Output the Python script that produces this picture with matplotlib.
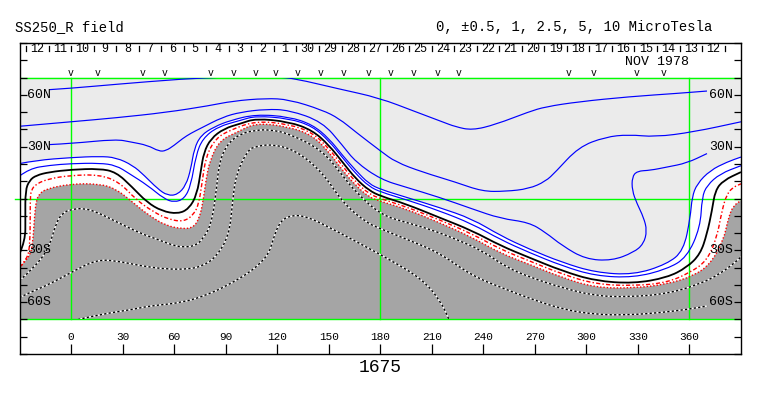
import matplotlib
matplotlib.use("Agg")
import matplotlib.pyplot as plt
from matplotlib.patches import Rectangle, PathPatch
from matplotlib.path import Path

plt.rcParams['font.family'] = ['Liberation Mono', 'DejaVu Sans Mono']

# ---------------- data (longitude, latitude of each contour) ----------------
# +10 uT
c10_lon = [-12.6, 0, 26.2, 64.9, 88.2, 105, 120, 130, 156, 179.2, 200.6, 216.1, 223.8, 233.5,
           247.1, 266.5, 276.2, 295.5, 324.6, 353.7, 370.2]
c10_lat = [63.0, 63.8, 66.1, 69.2, 70.2, 71.0, 70.3, 69.5, 63.4, 58.3, 50.2, 44.4, 41.5, 39.5,
           42.8, 50.2, 53.1, 56.0, 58.9, 60.9, 62.2]
# +5 uT
c5_lon = [-30, 0, 26.2, 55.2, 80.4, 94.0, 113.4, 126.9, 146.3, 156.0, 165.7, 180.4, 189.0, 204.5,
          223.8, 239.4, 252.9, 266.5, 276.2, 282.0, 295.5, 311.0, 324.6, 340.1, 362.4, 390]
c5_lat = [41.8, 44.4, 46.7, 49.8, 53.7, 56.4, 58.0, 57.3, 51.2, 46.3, 38.5, 27.3, 21.1, 15.3,
          9.5, 4.1, 4.1, 5.6, 9.9, 15.3, 29.8, 35.6, 37.0, 35.6, 38.5, 44.4]
# +2.5 uT
c2p5_lon = [-12.6, 0, 26.2, 34.9, 44.6, 51.2, 55.2, 60.1, 64.9, 69.8, 75.6, 88.2, 98.8, 113.4,
            126.9, 146.3, 158.0, 165.7, 180.4, 194.8, 214.1, 233.5, 250.0, 266.5, 276.2, 285.9,
            299.4, 314.9, 327.5, 333.3, 335.3, 333.3, 329.5, 326.6, 326.6, 329.5, 337.2, 346.9,
            358.5, 370.2]
c2p5_lat = [31.2, 31.8, 34.3, 32.7, 30.8, 27.3, 27.6, 30.8, 34.7, 37.8, 40.7, 47.1, 50.0, 51.7,
            51.2, 44.4, 30.8, 21.1, 11.0, 6.6, 0.8, -6.0, -11.6, -13.8, -19.6, -27.3,
            -35.1, -36.0, -31.2, -26.3, -18.6, -10.9, -3.1, 4.7, 12.4, 15.9, 16.3, 18.2,
            20.5, 26.0]
# +1 uT
c1_lon = [-30, -20.3, 0, 16.5, 26.2, 35.9, 42.6, 50.4, 56.2, 62.0, 66.9, 69.8, 71.7, 75.6, 83.3,
          93.0, 107.6, 126.9, 140.5, 150.2, 158.0, 165.7, 173.4, 180.4, 194.8, 214.1, 233.5,
          250.0, 266.5, 285.9, 305.2, 327.5, 346.9, 356.6, 360.5, 361.5, 364.4, 372.1, 381.8, 390]
c1_lat = [20.2, 22.1, 23.7, 24.4, 23.7, 19.2, 13.4, 5.6, 1.7, 2.2, 7.6, 17.3, 28.9, 36.6, 41.5,
          45.3, 48.7, 47.3, 42.8, 34.7, 25.0, 16.3, 8.5, 5.2, 0.8, -5.1, -11.8,
          -21.5, -29.2, -37.0, -42.8, -44.2, -38.0, -30.2, -10.9, 0.8, 8.5, 16.3, 21.1, 24.0]
# +0.5 uT
c05_lon = [-30, -24.2, -12.6, 0, 16.5, 26.2, 33.9, 44.6, 54.2, 60.1, 65.9, 69.8, 72.7, 76.6, 85.3,
           98.8, 107.6, 126.9, 140.5, 150.2, 158.0, 165.7, 173.4, 180.4, 194.8, 214.1, 233.5,
           250.0, 266.5, 285.9, 305.2, 327.5, 346.9, 358.5, 366.3, 367.3, 370.2, 377.9, 390]
c05_lat = [13.0, 17.3, 19.2, 20.2, 20.5, 19.2, 14.4, 7.6, -0.2, -2.2, -0.2, 7.6, 25.0, 34.7, 41.5,
           45.3, 47.8, 46.3, 41.9, 33.3, 23.7, 14.4, 7.0, 3.7, -0.6, -7.0, -14.7,
           -23.8, -31.2, -39.0, -44.8, -45.8, -40.9, -34.1, -16.7, 0.8, 7.6, 14.4, 19.0]
# 0 (neutral line)
c0_lon = [-30, -26.6, -26.6, -26.6, -24.2, -20.3, -12.6, 0, 16.5, 26.2, 35.5, 44.2, 52.9, 62.2,
          68.6, 73.3, 75.6, 77.3, 81.4, 89.1, 98.8, 107.6, 126.9, 140.5, 150.2, 158.0, 165.7,
          173.4, 180.4, 194.8, 214.1, 233.5, 250.0, 266.5, 285.9, 305.2, 327.5, 346.9, 358.5,
          366.3, 370.2, 373.1, 375.0, 379.8, 390]
c0_lat = [-32.0, -24.4, -10.9, 4.7, 10.5, 13.4, 15.3, 16.7, 17.3, 15.3, 6.7, -2.2, -7.3, -8.9,
          -6.0, 2.3, 16.3, 26.7, 34.7, 40.5, 43.4, 46.3, 44.4, 39.5, 30.8, 21.1, 11.5,
          4.7, 1.3, -3.1, -10.9, -18.6, -27.3, -34.1, -41.9, -47.7, -49.2, -45.8, -39.9,
          -32.2, -20.5, -7.0, 4.7, 10.5, 15.3]
# -0.5 uT
cm05_lon = [-30, -26.2, -23.8, -23.8, -23.3, -20.3, -12.6, 0, 16.5, 28.1, 37.8, 47.7, 57.0, 65.7,
            71.5, 74.4, 76.2, 78.5, 84.3, 93.0, 107.6, 126.9, 140.5, 150.2, 158.0, 165.7, 173.4,
            180.4, 194.8, 214.1, 233.5, 250.0, 266.5, 285.9, 305.2, 327.5, 346.9, 360.5, 370.2,
            376.0, 378.9, 381.8, 385.6, 390]
cm05_lat = [-39.9, -36.0, -28.3, -1.2, 4.7, 8.5, 11.5, 13.4, 13.8, 9.5, -0.6, -7.6, -12.2, -13.4,
            -9.3, -2.9, 8.7, 24.4, 34.9, 39.8, 44.9, 43.0, 38.2, 28.9, 18.8, 9.5, 2.7,
            -0.2, -4.7, -12.2, -20.5, -29.4, -36.0, -43.8, -49.6, -50.6, -48.7, -42.8, -36.0,
            -22.5, -7.0, 2.7, 6.6, 8.5]
# -1 uT
cm1_lon = [-30, -24.2, -22.3, -21.3, -20.3, -18.4, -14.5, 0, 16.5, 26.2, 35.9, 45.5, 55.2, 64.9,
           70.9, 74.4, 76.7, 78.5, 80.8, 86.6, 96.9, 107.6, 126.9, 140.5, 150.2, 158.0, 165.7,
           173.4, 180.4, 194.8, 214.1, 233.5, 250.0, 266.5, 285.9, 305.2, 327.5, 346.9, 362.4,
           372.1, 379.8, 382.7, 385.6, 390]
cm1_lat = [-39.9, -34.1, -26.3, -10.9, -1.2, 2.7, 5.6, 8.5, 8.5, 5.6, -2.2, -9.9, -15.7, -17.6,
           -16.9, -12.2, -2.9, 10.5, 22.1, 33.7, 38.5, 43.8, 41.5, 36.6, 26.9, 16.3, 7.6,
           0.8, -1.7, -6.0, -13.8, -22.5, -31.7, -38.0, -45.8, -51.6, -51.9, -49.6, -44.8,
           -38.0, -24.4, -10.9, -4.1, -1.2]
# -2.5 uT
cm2p5_lon = [-30, -20.3, -12.6, -8.7, -4.7, 0, 6.8, 14.5, 26.2, 40.7, 49.4, 58.1, 64.9, 72.7, 76.7,
             81.4, 84.3, 86.2, 91.1, 98.8, 107.6, 115.3, 126.9, 146.3, 158.0, 165.7, 180.4, 194.8,
             208.3, 223.8, 239.4, 252.9, 266.3, 285.9, 305.2, 324.4, 347.1, 366.3, 377.9, 387.8, 390]
cm2p5_lat = [-47.5, -39.0, -27.9, -14.0, -8.1, -6.4, -5.6, -7.6, -13.4, -20.3, -23.3, -26.7, -28.3,
             -27.3, -23.3, -15.7, 1.7, 21.1, 31.8, 37.6, 39.5, 39.9, 37.6, 27.9, 13.4, 3.7, -9.5,
             -13.8, -17.6, -23.4, -30.2, -39.5, -45.3, -51.7, -56.4, -57.0, -55.2, -49.4, -43.6,
             -36.0, -33.7]
# -5 uT
cm5_lon = [-30, -24.2, -12.6, 0, 14.5, 26.2, 40.7, 55.2, 68.8, 76.6, 84.3, 92.0, 94.0, 95.9, 102.7,
           107.6, 117.3, 130.8, 146.3, 158.0, 171.5, 180.4, 194.8, 214.1, 233.5, 252.9, 266.3,
           285.9, 305.2, 324.4, 343.0, 359.3, 370.3]
cm5_lat = [-57.3, -54.5, -49.6, -42.8, -35.5, -36.0, -39.0, -40.9, -40.9, -39.0, -34.1, -21.5, -2.2,
           13.4, 27.9, 30.2, 31.4, 27.9, 15.3, -2.2, -13.8, -17.6, -23.4, -31.2, -44.8, -52.5,
           -57.6, -64.1, -67.2, -67.4, -66.1, -64.1, -62.2]
# -10 uT
cm10_lon = [4.1, 17.4, 36.6, 45.5, 64.9, 80.4, 94.0, 103.7, 110.5, 115.3, 117.4, 121.1, 126.9,
            136.6, 156.0, 185.1, 204.5, 215.1, 220.0]
cm10_lat = [-70, -67.0, -64.1, -62.2, -60.3, -55.4, -48.7, -42.8, -37.2, -31.4, -24.4, -14.0, -9.9,
            -9.9, -19.6, -35.1, -46.7, -59.3, -70]

# axis ticks / labels
lon_ticks = [0, 30, 60, 90, 120, 150, 180, 210, 240, 270, 300, 330, 360]
lat_ticks = [-90, -80, -70, -60, -50, -40, -30, -20, -10, 0, 10, 20, 30, 40, 50, 60, 70, 80, 90]
lat_labels = {60: '60N', 30: '30N', -30: '30S', -60: '60S'}
grid_lons = [0, 180, 360]
grid_lats = [-70, 0, 70]

# dates along top (Carrington rotation 1675)
day_names = ['12', '11', '10', '9', '8', '7', '6', '5', '4', '3', '2', '1', '30', '29', '28', '27',
             '26', '25', '24', '23', '22', '21', '20', '19', '18', '17', '16', '15', '14', '13', '12']
day_edges = [-26.2, -13.1, 0.0, 13.2, 26.3, 39.4, 52.5, 65.6, 78.8, 91.9, 105.0, 118.1, 131.2,
             144.4, 157.5, 170.6, 183.7, 196.8, 210.0, 223.1, 236.2, 249.3, 262.4, 275.6, 288.7,
             301.8, 314.9, 328.0, 341.2, 354.3, 367.4, 380.5]
v_lons = [0, 15.5, 41.7, 54.2, 81.4, 94.9, 107.6, 119.2, 131.8, 145.3, 158.9, 173.4, 186.0, 199.6,
          213.2, 225.8, 289.7, 304.2, 329.5, 344.9]

# ---------------- figure ----------------
W, H = 763, 396
fig = plt.figure(figsize=(W / 100, H / 100), dpi=100)
ax = fig.add_axes([19.5 / W, 42 / H, 721.5 / W, 311 / H])
ax.set_xlim(-30, 390)
ax.set_ylim(-90, 90)

LGRAY = '#ebebeb'
DGRAY = '#a5a5a5'
BLUE = '#0000ff'
RED = '#ff0000'
GREEN = '#00ff00'

clip = Rectangle((-30, -70), 420, 140, transform=ax.transData, facecolor='none', edgecolor='none')


def smooth_verts(lons, lats):
    """Quadratic-Bezier path through the traced points (rendering only)."""
    pts = list(zip(lons, lats))
    verts = [pts[0]]
    codes = [Path.MOVETO]
    for i in range(1, len(pts) - 1):
        mid = ((pts[i][0] + pts[i + 1][0]) / 2, (pts[i][1] + pts[i + 1][1]) / 2)
        verts += [pts[i], mid]
        codes += [Path.CURVE3, Path.CURVE3]
    verts.append(pts[-1])
    codes.append(Path.LINETO)
    return verts, codes


def fill_region(lons, lats, corners, color, z):
    verts, codes = smooth_verts(lons, lats)
    for c in corners:
        verts.append(c)
        codes.append(Path.LINETO)
    verts.append(verts[0])
    codes.append(Path.CLOSEPOLY)
    ax.add_patch(PathPatch(Path(verts, codes), facecolor=color, edgecolor='none', zorder=z))


def draw(lons, lats, **kw):
    verts, codes = smooth_verts(lons, lats)
    p = PathPatch(Path(verts, codes), facecolor='none', **kw)
    ax.add_patch(p)
    p.set_clip_path(clip)
    return p


# fills
fill_region(c1_lon, c1_lat, [(390, 70), (-30, 70)], LGRAY, 0.5)
fill_region(cm1_lon, cm1_lat, [(390, -70), (-30, -70)], DGRAY, 0.6)

# grid lines (green)
for g in grid_lons:
    ax.plot([g, g], [-70, 70], color=GREEN, lw=1.0, zorder=0.8)
for g in grid_lats:
    ax.plot([-30, 390], [g, g], color=GREEN, lw=1.0, zorder=0.8)

for lo, la in [(c10_lon, c10_lat), (c5_lon, c5_lat), (c2p5_lon, c2p5_lat),
               (c1_lon, c1_lat), (c05_lon, c05_lat)]:
    draw(lo, la, edgecolor=BLUE, lw=0.85, zorder=1.5)

draw(c0_lon, c0_lat, edgecolor='black', lw=1.3, zorder=1.6)
draw(cm05_lon, cm05_lat, edgecolor=RED, lw=1.0, linestyle=(0, (3, 1.6, 1, 1.6)), zorder=1.6)
draw(cm1_lon, cm1_lat, edgecolor=RED, lw=1.0, linestyle=(0, (1, 1.4)), zorder=1.6)

for lo, la in [(cm2p5_lon, cm2p5_lat), (cm5_lon, cm5_lat), (cm10_lon, cm10_lat)]:
    draw(lo, la, edgecolor='white', lw=1.0, zorder=1.4)
    draw(lo, la, edgecolor='black', lw=1.0, linestyle=(0, (1.6, 1.6)), zorder=1.45)

# frame and ticks
for s in ax.spines.values():
    s.set_linewidth(1.0)
    s.set_color('black')
    s.set_zorder(3)
ax.set_xticks(lon_ticks)
ax.set_yticks(lat_ticks)
ax.tick_params(axis='x', direction='in', length=7.5, width=0.9, bottom=True, top=False,
               labelbottom=False)
ax.tick_params(axis='y', direction='in', length=5.3, width=0.9, left=True, right=True,
               labelleft=False, labelright=False)

for t in lon_ticks:
    ax.text(t, -80.2, str(t), ha='center', va='center', fontsize=8)
for lat, lab in lat_labels.items():
    ax.text(-25.5, lat, lab, ha='left', va='center', fontsize=9.5, zorder=2)
    ax.text(385.6, lat, lab, ha='right', va='center', fontsize=9.5, zorder=2)

# small green equator marker outside left frame
ax.plot([-32.5, -30], [0, 0], color=GREEN, lw=1.0, clip_on=False)

# dates row
for e in day_edges:
    ax.plot([e, e], [88.0, 85.6], color='black', lw=0.9)
for i, name in enumerate(day_names):
    mid = 0.5 * (day_edges[i] + day_edges[i + 1])
    ax.text(mid, 86.4, name, ha='center', va='center', fontsize=8.5)
ax.text(341.1, 79.2, 'NOV 1978', ha='center', va='center', fontsize=9.5)
for v in v_lons:
    ax.text(v, 72.6, 'v', ha='center', va='center', fontsize=7)

# titles
fig.text(15 / W, 1 - 27 / H, 'SS250_R field', ha='left', va='center', fontsize=10)
fig.text(712 / W, 1 - 27 / H, '0, \u00b10.5, 1, 2.5, 5, 10 MicroTesla', ha='right', va='center',
         fontsize=10)
fig.text(380 / W, 1 - 367 / H, '1675', ha='center', va='center', fontsize=13)

fig.savefig('out.png', dpi=100)
